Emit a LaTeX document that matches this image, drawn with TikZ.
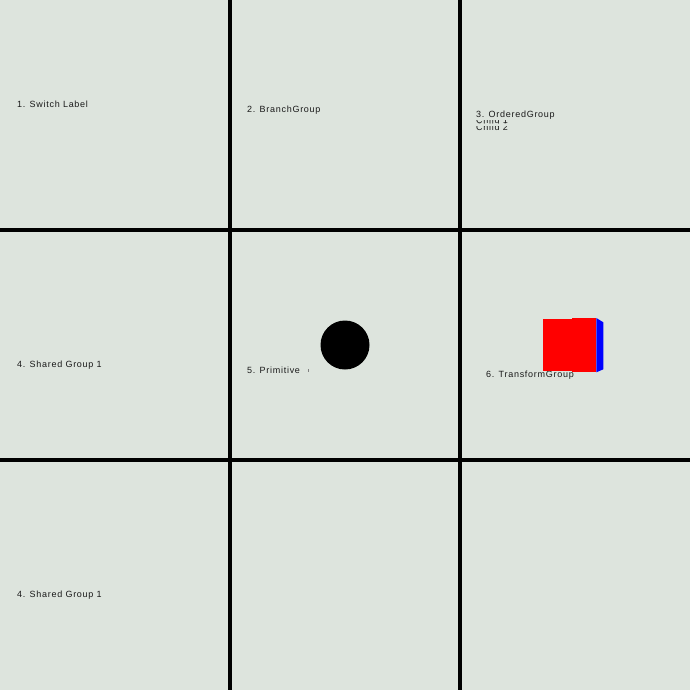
\documentclass[tikz,border=0pt]{standalone}
\usepackage{fontspec}
\newfontfamily\labelfont[LetterSpace=8]{Liberation Sans}
\definecolor{panelbg}{RGB}{221,228,221}
\definecolor{labelgray}{RGB}{25,25,25}
\usetikzlibrary{positioning}

\begin{document}
\begin{tikzpicture}[x=1pt,y=-1pt,
        grid line/.style={line width=4pt,black},
        panel label/.style={anchor=base west,inner sep=0pt,text=labelgray,
            font=\labelfont\fontsize{9}{10.8}\selectfont},
        hidden child/.style={panel label,text height=3.5pt,text depth=0pt}]

        \fill[panelbg] (0,0) rectangle (690,690);
        \useasboundingbox (0,0) rectangle (690,690);

        % panel labels
        \path   (17,107)  node (switch)    [panel label] {1. Switch Label}
                (247,113) node (branch)    [panel label] {2. BranchGroup}
                (476,117.5) node (ordered) [panel label] {3. OrderedGroup}
                (17,367)  node (shared)    [panel label] {4. Shared Group 1}
                (247,373) node (primitive) [panel label] {5. Primitive}
                (486,377) node (transform) [panel label] {6. TransformGroup}
                (17,597)  node (sharedb)   [panel label] {4. Shared Group 1};

        % children of the ordered group, half hidden
        \begin{scope}
            \clip (470,119.6) rectangle (560,124) (470,126.2) rectangle (560,131);
            \path (476,123.8) node (childa) [hidden child] {Child 1}
                  (476,130.6) node (childb) [hidden child] {Child 2};
        \end{scope}

        % primitive
        \node (ball) [circle,fill=black,minimum size=49pt,inner sep=0pt] at (345,345) {};
        \draw[gray,line width=0.8pt] (308,369) -- (308,372);

        % transform group cube
        \fill[red]  (543,319.3) rectangle (572.3,371.3);
        \fill[red]  (572,318) rectangle (596.3,372.3);
        \fill[blue] (596.3,318) -- (603.3,322.3) -- (603.3,369.3) -- (596.3,372.3) -- cycle;

        \foreach \p in {230,460} {
            \draw[grid line] (\p,0) -- (\p,690);
            \draw[grid line] (0,\p) -- (690,\p);
        }

\end{tikzpicture}
\end{document}
